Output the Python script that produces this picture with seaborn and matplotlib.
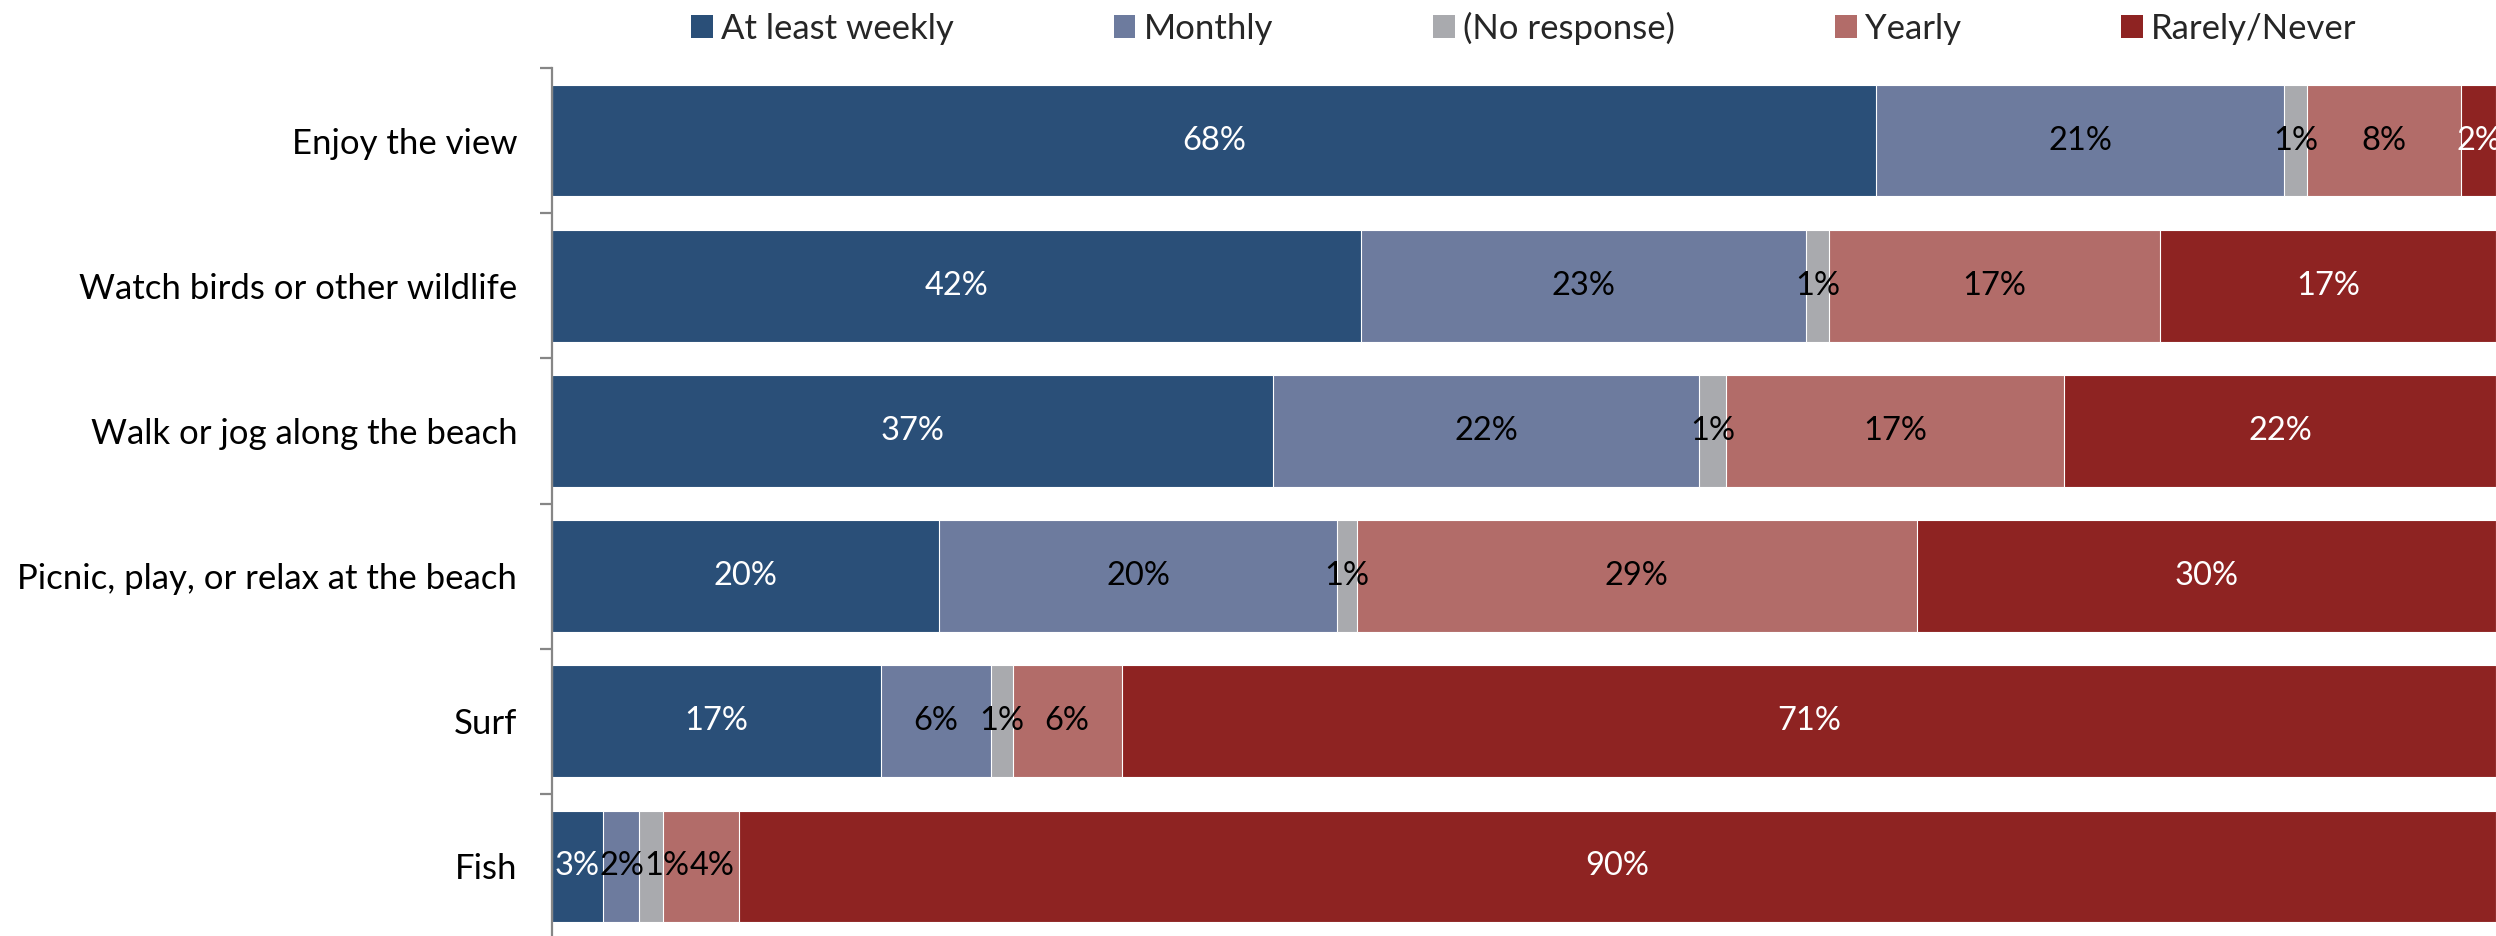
import pandas as pd
import seaborn as sns
import matplotlib.pyplot as plt
from matplotlib.patches import Patch

# Dati (percentuali)
activities = ["Enjoy the view", "Watch birds or other wildlife", "Walk or jog along the beach",
              "Picnic, play, or relax at the beach", "Surf", "Fish"]
series = ["At least weekly", "Monthly", "(No response)", "Yearly", "Rarely/Never"]
weekly = [68.1, 41.6, 37.1, 19.9, 16.9, 2.6]
monthly = [21.0, 22.9, 21.9, 20.5, 5.7, 1.9]
no_response = [1.2, 1.2, 1.4, 1.0, 1.1, 1.2]
yearly = [7.9, 17.0, 17.4, 28.8, 5.6, 3.9]
rarely = [1.8, 17.3, 22.2, 29.8, 70.7, 90.4]

colors = ["#2A4F78", "#6D7B9E", "#A9AAAE", "#B26C69", "#8E2322"]
text_colors = ["white", "black", "black", "black", "white"]

df = pd.DataFrame({"Activity": activities, series[0]: weekly, series[1]: monthly,
                   series[2]: no_response, series[3]: yearly, series[4]: rarely})
cum = df[series].cumsum(axis=1)
cum["Activity"] = activities

sns.set_theme(style="white")
plt.rcParams['font.family'] = ['Lato', 'DejaVu Sans']
fs = 25

fig = plt.figure(figsize=(24.96, 9.36), dpi=100)
ax = fig.add_axes([552 / 2496, -3 / 936, 1944 / 2496, 871 / 936])

# barre cumulative, dalla piu' lunga alla piu' corta
for s, c in reversed(list(zip(series, colors))):
    sns.barplot(data=cum, x=s, y="Activity", color=c, saturation=1, width=0.77,
                orient="h", errorbar=None, edgecolor="white", linewidth=0.8, ax=ax)

ax.set_xlim(0, 100)
ax.set_ylim(5.5, -0.5)

# etichette percentuali al centro dei segmenti
labels = []
for i in range(len(activities)):
    row = []
    for s, tc in zip(series, text_colors):
        val = df.loc[i, s]
        center = cum.loc[i, s] - val / 2
        row.append(ax.text(center, i, f"{val:.0f}%", ha="center", va="center",
                           color=tc, fontsize=23.5))
    labels.append(row)

# sposta a destra le etichette che si sovrappongono (come fa Excel)
fig.canvas.draw()
renderer = fig.canvas.get_renderer()
px_per_unit = ax.get_window_extent(renderer).width / 100
for row in labels:
    prev_right = None
    for t in row:
        bb = t.get_window_extent(renderer)
        if prev_right is not None and bb.x0 < prev_right:
            shift = prev_right - bb.x0
            x, y = t.get_position()
            t.set_x(x + shift / px_per_unit)
            prev_right = bb.x1 + shift
        else:
            prev_right = bb.x1

ax.set_xlabel("")
ax.set_ylabel("")
ax.set_xticks([])
for side in ["top", "right", "bottom"]:
    ax.spines[side].set_visible(False)
ax.spines["left"].set_color("#868686")
ax.spines["left"].set_linewidth(1.6)

ax.set_yticks(range(len(activities)))
ax.set_yticklabels(activities, fontsize=fs, color="black")
ax.set_yticks([i - 0.5 for i in range(len(activities) + 1)], minor=True)
ax.tick_params(axis="y", which="major", length=0, pad=25)
ax.tick_params(axis="y", which="minor", left=True, length=9, width=1.6, color="#868686")

handles = [Patch(facecolor=c, edgecolor="none", label=s) for s, c in zip(series, colors)]
fig.legend(handles=handles, loc="center", bbox_to_anchor=((552 + 2496) / 2 / 2496, 1 - 28 / 936),
           ncol=5, frameon=False, fontsize=fs, handlelength=0.62, handleheight=0.62,
           handletextpad=0.25, columnspacing=4.6)

plt.savefig("out.png", dpi=100)
